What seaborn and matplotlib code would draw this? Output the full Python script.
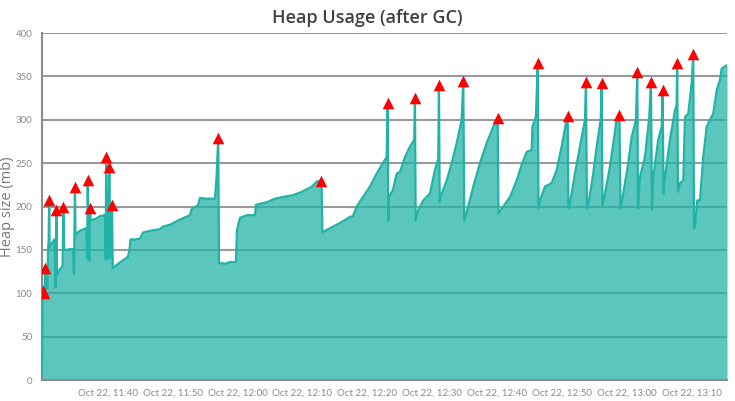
import matplotlib
matplotlib.use("Agg")
import matplotlib.pyplot as plt
import matplotlib.dates as mdates
import seaborn as sns
import pandas as pd
import numpy as np

# time in minutes after Oct 22, 11:40
minutes = [
    -10.14, -10.07, -9.91, -9.76, -9.65, -9.60, -9.29, -9.22, -9.12, -9.03,
    -8.97, -8.60, -8.22, -8.06, -7.91, -7.83, -7.37, -6.98, -6.83, -6.75,
    -5.36, -5.21, -5.06, -4.98, -4.29, -3.67, -3.28, -3.18, -3.10, -2.97,
    -2.85, -2.74, -2.64, -1.82, -1.20, -0.43, -0.32, -0.25, -0.12, 0.11,
    0.23, 0.37, 0.65, 0.77, 1.42, 2.34, 3.11, 3.34, 3.50, 4.19,
    4.96, 5.43, 6.50, 8.05, 8.51, 9.59, 10.36, 11.13, 12.05, 12.67,
    12.98, 13.90, 14.21, 14.98, 16.52, 16.76, 17.03, 17.14, 18.07, 18.84,
    19.76, 19.92, 20.38, 21.46, 22.69, 22.84, 24.54, 25.77, 27.01, 28.55,
    29.93, 31.48, 32.25, 32.94, 33.09, 33.74, 35.79, 37.33, 37.80, 38.37,
    39.34, 40.42, 41.45, 42.73, 42.99, 43.14, 43.24, 43.34, 43.96, 44.53,
    45.04, 45.81, 46.58, 47.24, 47.35, 47.46, 47.81, 48.63, 49.66, 50.43,
    50.94, 51.05, 51.16, 51.28, 52.24, 53.01, 53.78, 54.55, 54.80, 54.95,
    55.21, 56.34, 57.37, 58.40, 59.42, 60.10, 60.22, 60.96, 62.00, 63.03,
    63.80, 64.57, 65.34, 65.46, 66.00, 66.27, 66.39, 66.62, 67.39, 68.42,
    69.19, 69.96, 70.63, 70.89, 71.01, 71.24, 72.01, 72.79, 73.56, 73.71,
    73.86, 74.09, 74.83, 75.36, 75.98, 76.13, 76.25, 76.64, 77.41, 78.44,
    78.87, 79.03, 79.46, 80.23, 80.75, 81.42, 81.62, 81.73, 82.03, 82.80,
    83.47, 83.73, 83.88, 84.08, 84.85, 85.38, 85.53, 85.66, 85.89, 86.66,
    87.43, 87.69, 87.77, 87.89, 88.20, 88.71, 88.97, 89.48, 90.00, 90.25,
    90.36, 90.51, 90.87, 91.28, 91.79, 92.32, 92.83, 93.33, 93.86, 94.37,
    94.63, 95.45,
]
heap_mb = [
    5, 100, 103, 100, 129, 104, 106, 150, 160, 208,
    152, 158, 162, 107, 196, 121, 128, 131, 200, 150,
    151, 122, 222, 168, 172, 174, 175, 140, 231, 178,
    138, 198, 184, 186, 189, 190, 139, 257, 185, 140,
    246, 140, 202, 129, 133, 138, 142, 150, 162, 162,
    163, 170, 172, 174, 177, 179, 182, 185, 188, 190,
    198, 201, 210, 209, 209, 233, 279, 135, 134, 136,
    136, 173, 187, 190, 190, 202, 205, 209, 211, 213,
    217, 223, 229, 229, 170, 173, 181, 188, 189, 200,
    211, 223, 238, 254, 257, 319, 184, 211, 219, 238,
    240, 257, 269, 277, 325, 184, 195, 207, 215, 242,
    255, 340, 205, 211, 230, 250, 273, 300, 345, 184,
    190, 223, 250, 273, 292, 302, 192, 200, 211, 230,
    248, 263, 265, 292, 304, 365, 198, 207, 223, 227,
    242, 269, 296, 304, 198, 203, 238, 269, 300, 343,
    198, 203, 238, 269, 300, 342, 200, 215, 246, 300,
    305, 198, 215, 250, 280, 300, 355, 198, 234, 257,
    303, 344, 196, 234, 277, 292, 334, 215, 234, 277,
    311, 317, 365, 217, 227, 230, 303, 307, 342, 376,
    175, 177, 207, 207, 257, 292, 300, 307, 334, 346,
    359, 363,
]

# spike markers (minutes after 11:40, heap size)
spike_minutes = [-9.91, -9.76, -9.65, -9.03, -7.91, -6.83, -5.06, -3.10, -2.74,
                 -0.25, 0.23, 0.65, 17.03, 32.94, 43.14, 47.35, 51.05, 54.80,
                 60.10, 66.27, 70.89, 73.71, 76.13, 78.87, 81.62, 83.73, 85.53,
                 87.77, 90.25]
spike_mb = [103, 100, 129, 208, 196, 200, 222, 231, 198,
            257, 246, 202, 279, 229, 319, 325, 340, 345,
            302, 365, 304, 343, 342, 305, 355, 344, 334,
            365, 376]

y_ticks = [0, 50, 100, 150, 200, 250, 300, 350, 400]
x_tick_minutes = [0, 10, 20, 30, 40, 50, 60, 70, 80, 90]

base = pd.Timestamp("2019-10-22 11:40:00")
df = pd.DataFrame({"time": base + pd.to_timedelta(minutes, unit="min"), "heap": heap_mb})
spikes = pd.DataFrame({"time": base + pd.to_timedelta(spike_minutes, unit="min"), "heap": spike_mb})

sns.set_style("white")
plt.rcParams["font.family"] = ["Open Sans", "DejaVu Sans"]

line_color = "#22B3A6"
fig = plt.figure(figsize=(7.35, 4.01), dpi=100)
ax = fig.add_axes([42 / 735, 1 - 380 / 401, (727 - 42) / 735, (380 - 33) / 401])

ax.set_axisbelow(True)
ax.yaxis.grid(True, color="#9a9a9a", linewidth=1.5)
ax.xaxis.grid(False)

ax.fill_between(df["time"], 0, df["heap"], color=line_color, alpha=0.74, linewidth=0, zorder=2)
sns.lineplot(data=df, x="time", y="heap", ax=ax, color=line_color, linewidth=1.6, zorder=3,
             estimator=None, sort=False)
sns.scatterplot(data=spikes, x="time", y="heap", ax=ax, marker="^", color="#FF0000",
                s=70, linewidth=0, zorder=4)

ax.set_xlim(df["time"].min(), df["time"].max())
ax.set_ylim(0, 400)
ax.set_yticks(y_ticks)
ax.set_xticks(list(base + pd.to_timedelta(x_tick_minutes, unit="min")))
ax.xaxis.set_major_formatter(mdates.DateFormatter("%b %d, %H:%M"))

for sp in ["top", "right"]:
    ax.spines[sp].set_visible(False)
for sp in ["left", "bottom"]:
    ax.spines[sp].set_color("#8c8c8c")
    ax.spines[sp].set_linewidth(1.5)

ax.tick_params(axis="both", which="major", length=4, width=1, color="#8c8c8c",
               labelsize=7, labelcolor="#8a8a8a", pad=2)
ax.tick_params(axis="y", pad=3)
for lab in ax.get_xticklabels() + ax.get_yticklabels():
    lab.set_family(["Lato", "DejaVu Sans"])

ax.set_xlabel("")
ax.set_ylabel("Heap size (mb)", fontsize=10.5, color="#7a7a7a")
ax.yaxis.set_label_coords(-0.040, 0.5)

fig.text(0.5, 1 - 18 / 401, "Heap Usage (after GC)", ha="center", va="center",
         fontsize=13, fontweight="semibold", color="#404040")

fig.savefig("out.png", dpi=100)
